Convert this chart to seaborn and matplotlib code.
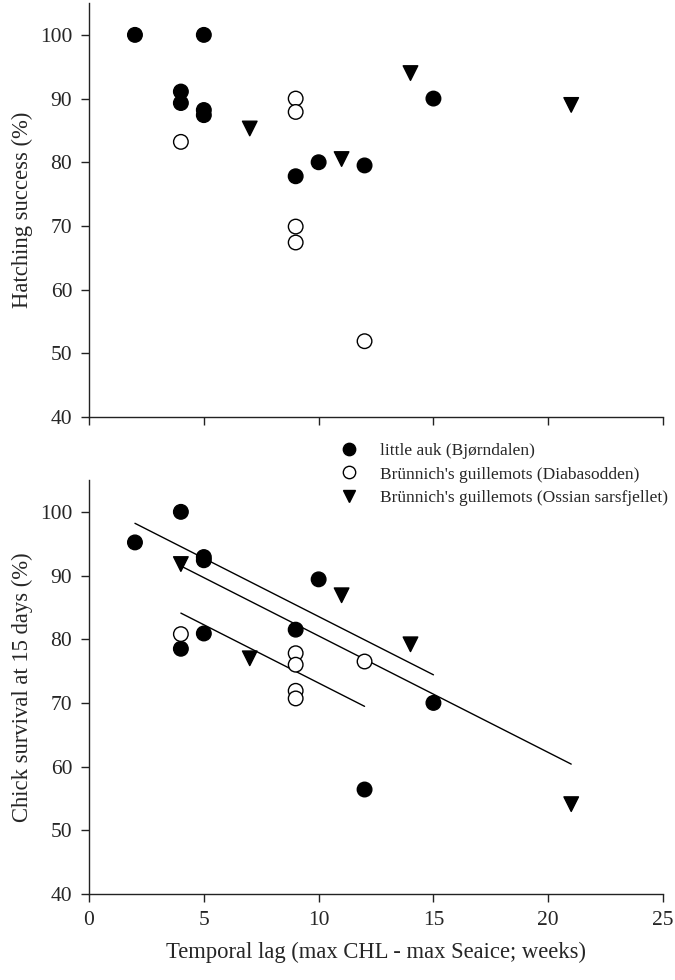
# Hatching success and chick survival vs temporal lag
# (max CHL - max sea ice), three seabird colonies

import matplotlib.pyplot as plt
import pandas as pd
import numpy as np
import seaborn as sns

groups = ["little auk (Bjørndalen)",
          "Brünnich's guillemots (Diabasodden)",
          "Brünnich's guillemots (Ossian sarsfjellet)"]

# top panel: hatching success (%)
hatch_lag_auk = [2, 5, 4, 4, 5, 5, 9, 10, 12, 15]
hatch_auk = [100, 100, 91.1, 89.3, 88.2, 87.4, 77.8, 80.0, 79.5, 90.0]
hatch_lag_dia = [4, 9, 9, 9, 9, 12]
hatch_dia = [83.2, 90.0, 87.9, 69.9, 67.4, 51.9]
hatch_lag_oss = [7, 11, 14, 21]
hatch_oss = [85.3, 80.5, 94.0, 89.0]

# bottom panel: chick survival at 15 days (%)
surv_lag_auk = [2, 4, 5, 5, 10, 9, 5, 4, 15, 12]
surv_auk = [95.2, 100, 92.9, 92.4, 89.4, 81.5, 80.9, 78.5, 70.0, 56.4]
surv_lag_dia = [4, 9, 9, 9, 9, 12]
surv_dia = [80.8, 77.8, 76.0, 71.9, 70.7, 76.5]
surv_lag_oss = [4, 7, 11, 14, 21]
surv_oss = [91.8, 77.0, 86.9, 79.2, 54.1]

# fitted lines (common slope model): intercept per group, shared slope
fit_slope = -1.83
fit_intercepts = [101.86, 91.42, 98.82]


def make_df(xs, ys):
    rows = []
    for g, x, y in zip(groups, xs, ys):
        for a, b in zip(x, y):
            rows.append((g, a, b))
    return pd.DataFrame(rows, columns=["group", "lag", "value"])


hatch_df = make_df([hatch_lag_auk, hatch_lag_dia, hatch_lag_oss],
                   [hatch_auk, hatch_dia, hatch_oss])
surv_df = make_df([surv_lag_auk, surv_lag_dia, surv_lag_oss],
                  [surv_auk, surv_dia, surv_oss])

sns.set_style("ticks")
plt.rcParams['font.family'] = ['Liberation Serif', 'DejaVu Serif']

palette = dict(zip(groups, ["black", "white", "black"]))
markers = dict(zip(groups, ["o", "o", "v"]))

fig = plt.figure(figsize=(6.75, 9.8), dpi=100)
ax1 = fig.add_axes([0.1319, 0.5745, 0.8504, 0.4224])
ax2 = fig.add_axes([0.1319, 0.0878, 0.8504, 0.4224])

for ax, df in [(ax1, hatch_df), (ax2, surv_df)]:
    sns.scatterplot(data=df, x="lag", y="value", hue="group", style="group",
                    palette=palette, markers=markers, edgecolor="black",
                    linewidth=1.0, s=110, ax=ax, legend=(ax is ax2), zorder=3)
    ax.set_xlim(0, 25)
    ax.set_ylim(40, 105)
    ax.set_xticks(range(0, 26, 5))
    ax.set_yticks(range(40, 101, 10))
    sns.despine(ax=ax)
    for s in ["left", "bottom"]:
        ax.spines[s].set_linewidth(1.0)
        ax.spines[s].set_color("#222222")
    ax.tick_params(direction="out", length=6, width=1.0, labelsize=15.5,
                   pad=6, color="#222222")

# regression lines in the bottom panel
for lag, icpt in zip([surv_lag_auk, surv_lag_dia, surv_lag_oss], fit_intercepts):
    xs = np.array([min(lag), max(lag)])
    ax2.plot(xs, icpt + fit_slope * xs, color="black", lw=1.0, zorder=2)

ax1.set_xlabel("")
ax1.set_xticklabels([])
ax1.set_ylabel("Hatching success (%)", fontsize=16.3, labelpad=5)
ax2.set_ylabel("Chick survival at 15 days (%)", fontsize=16.3, labelpad=5)
ax2.set_xlabel("Temporal lag (max CHL - max Seaice; weeks)", fontsize=16.3,
               labelpad=9)

sns.move_legend(ax2, "upper left", bbox_to_anchor=(0.504, 0.548),
                bbox_transform=fig.transFigure, frameon=False,
                title=None, fontsize=12.5, handlelength=1.0,
                handletextpad=1.3, borderpad=0, borderaxespad=0,
                labelspacing=0.42, markerscale=0.85)

plt.savefig("out.png", dpi=100)
